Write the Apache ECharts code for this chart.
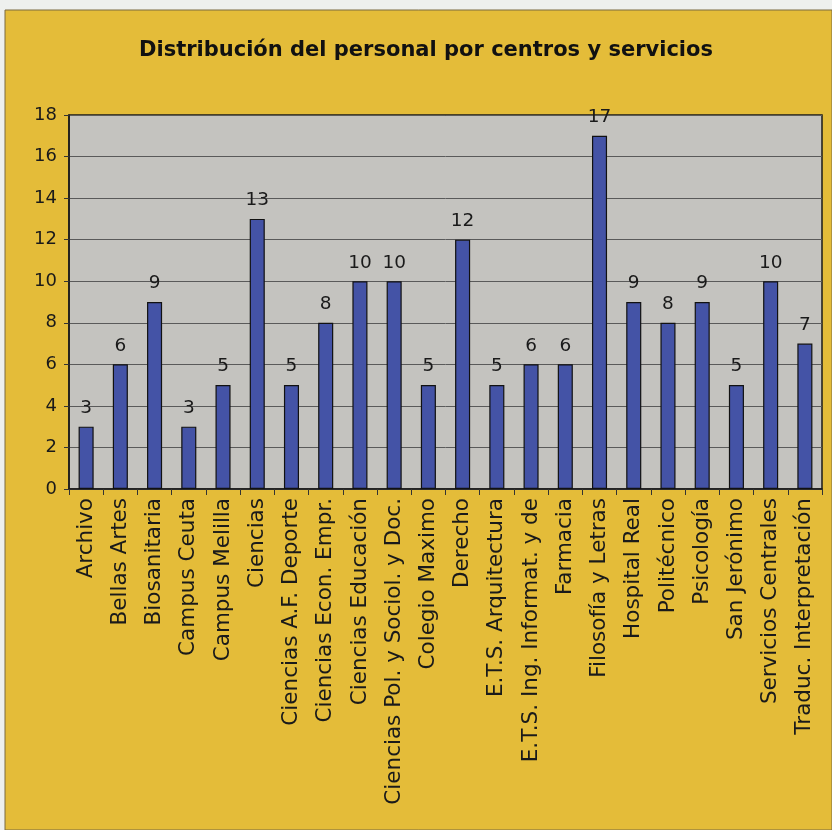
<!DOCTYPE html>
<html>
<head>
<meta charset="utf-8">
<style>
  html, body { margin: 0; padding: 0; background: #eef0ee; }
  #chart { width: 832px; height: 830px; }
</style>
<script src="https://cdn.jsdelivr.net/npm/echarts@6/dist/echarts.min.js"></script>
</head>
<body>
<div id="chart"></div>
<script>
// Staff per centre / service
const centros = [
  'Archivo', 'Bellas Artes', 'Biosanitaria', 'Campus Ceuta', 'Campus Melilla',
  'Ciencias', 'Ciencias A.F. Deporte', 'Ciencias Econ. Empr.', 'Ciencias Educación',
  'Ciencias Pol. y Sociol. y Doc.', 'Colegio Maximo', 'Derecho', 'E.T.S. Arquitectura',
  'E.T.S. Ing. Informat. y de', 'Farmacia', 'Filosofía y Letras', 'Hospital Real',
  'Politécnico', 'Psicología', 'San Jerónimo', 'Servicios Centrales', 'Traduc. Interpretación'
];
const personal = [3, 6, 9, 3, 5, 13, 5, 8, 10, 10, 5, 12, 5, 6, 6, 17, 9, 8, 9, 5, 10, 7];
const yTicks = { min: 0, max: 18, interval: 2 };

const font = 'Verdana, "DejaVu Sans", sans-serif';
const chart = echarts.init(document.getElementById('chart'), null, { renderer: 'canvas' });

chart.setOption({
  backgroundColor: 'transparent',
  animation: false,
  graphic: [
    {
      type: 'rect',
      z: -10,
      shape: { x: 5, y: 10, width: 827, height: 820 },
      style: { fill: '#e4bc39', stroke: '#7a6a40', lineWidth: 1 }
    }
  ],
  title: {
    text: 'Distribución del personal por centros y servicios',
    left: 134,
    top: 35,
    textStyle: { fontFamily: font, fontSize: 21, fontWeight: 'bold', color: '#111' }
  },
  grid: { left: 69, right: 10, top: 115, bottom: 341, containLabel: false,
          show: true, backgroundColor: '#c4c3bf', borderColor: '#1a1a1a', borderWidth: 1.5 },
  xAxis: {
    type: 'category',
    data: centros,
    axisLine: { lineStyle: { color: '#1a1a1a', width: 1.5 } },
    axisTick: { show: true, alignWithLabel: false, length: 6, lineStyle: { color: '#333' } },
    axisLabel: { rotate: 90, interval: 0, margin: 9, fontFamily: font, fontSize: 21.5, color: '#1a1a1a' }
  },
  yAxis: {
    type: 'value',
    min: yTicks.min, max: yTicks.max, interval: yTicks.interval,
    axisLine: { show: true, lineStyle: { color: '#1a1a1a', width: 1.5 } },
    axisTick: { show: true, length: 5, lineStyle: { color: '#333' } },
    axisLabel: { margin: 12, fontFamily: font, fontSize: 18, color: '#1a1a1a' },
    splitLine: { show: true, lineStyle: { color: '#5a5a5a', width: 1 } }
  },
  series: [{
    type: 'bar',
    data: personal,
    barWidth: '44%',
    itemStyle: { color: '#4453a6', borderColor: '#111', borderWidth: 1.2 },
    label: { show: true, position: 'top', distance: 9, fontFamily: font, fontSize: 18.5, color: '#1a1a1a' }
  }]
});
</script>
</body>
</html>
